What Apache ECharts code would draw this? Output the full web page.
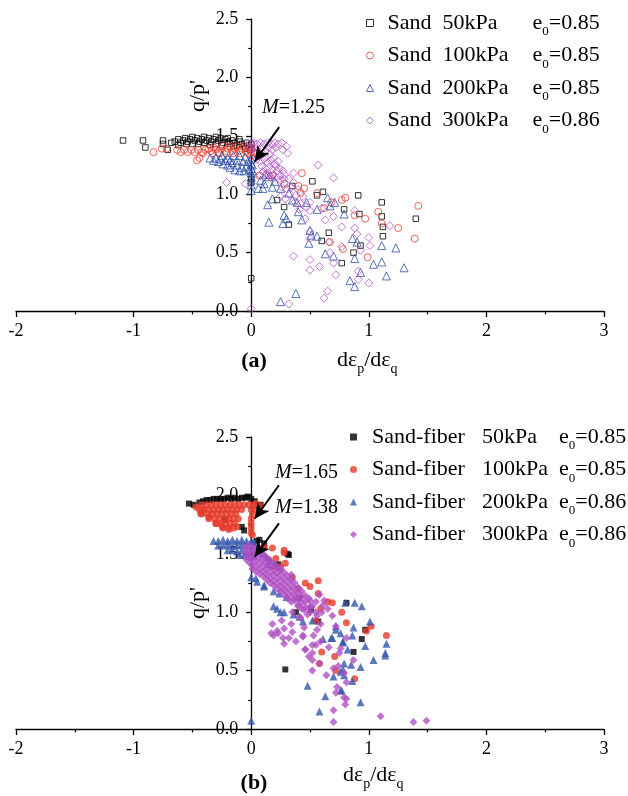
<!DOCTYPE html>
<html><head><meta charset="utf-8">
<script src="https://cdn.jsdelivr.net/npm/echarts@6/dist/echarts.min.js"></script>
<style>html,body{margin:0;padding:0;background:#fff}#c{width:628px;height:796px}</style>
</head><body><div id="c"></div>
<script>
// ---------- labels ----------
const sandNames = ['Sand 50kPa','Sand 100kPa','Sand 200kPa','Sand 300kPa'];
const sandP = ['50kPa','100kPa','200kPa','300kPa'];
const sandE0 = ['0.85','0.85','0.85','0.86'];
const fiberNames = ['Sand-fiber 50kPa','Sand-fiber 100kPa','Sand-fiber 200kPa','Sand-fiber 300kPa'];
const fiberP = ['50kPa','100kPa','200kPa','300kPa'];
const fiberE0 = ['0.85','0.85','0.86','0.86'];
const xRange = [-2, 3];
const yRange = [0, 2.5];
const mTextA = ['1.25'];
const mTextB = ['1.65','1.38'];
// arrow annotations: [tail, head] in data coordinates
const arrowsA = [[[0.238,1.574],[0.03,1.28]]];
const arrowsB = [[[0.236,2.087],[0.03,1.80]],[[0.236,1.76],[0.03,1.475]]];

// ---------- (a) Sand ----------
const sand50 = [[-1.09,1.46],[-0.92,1.46],[-0.90,1.40],[-0.75,1.46],[-0.75,1.43],[-0.71,1.38],
[-0.68,1.44],[-0.65,1.45],[-0.62,1.47],[-0.60,1.44],[-0.58,1.46],[-0.56,1.48],[-0.54,1.45],[-0.52,1.47],[-0.50,1.43],[-0.48,1.46],[-0.46,1.48],[-0.44,1.45],[-0.42,1.47],[-0.40,1.44],[-0.38,1.46],[-0.36,1.48],[-0.34,1.45],[-0.32,1.47],[-0.30,1.43],[-0.28,1.46],[-0.26,1.48],[-0.24,1.44],[-0.22,1.47],[-0.20,1.45],[-0.18,1.43],[-0.16,1.46],[-0.14,1.44],[-0.12,1.42],[-0.10,1.45],[-0.08,1.43],[-0.06,1.41],[-0.04,1.44],[-0.02,1.42],[0.00,1.40],[0.00,1.43],[-0.01,1.38],
[-0.62,1.42],[-0.55,1.43],[-0.45,1.43],[-0.35,1.42],[-0.25,1.42],[-0.15,1.41],[-0.05,1.39],[-0.50,1.49],[-0.40,1.49],[-0.30,1.49],[-0.20,1.48],[-0.10,1.47],
[0.00,1.13],[0.00,1.10],
[0.52,1.11],[0.35,1.07],[0.61,1.02],[0.56,0.99],[0.91,0.99],[1.11,0.93],[1.40,0.79],[0.22,0.95],[0.28,0.89],[0.79,0.87],[0.92,0.83],[1.11,0.81],[1.12,0.72],[1.12,0.64],[0.32,0.74],[0.66,0.67],[0.60,0.60],[0.93,0.56],[0.87,0.50],[0.77,0.41],[0.00,0.28]];

const sand100 = [[-0.83,1.36],[-0.76,1.39],[-0.72,1.39],[-0.63,1.38],[-0.60,1.36],[-0.57,1.38],[-0.54,1.36],[-0.51,1.38],[-0.48,1.36],[-0.45,1.38],[-0.42,1.36],[-0.39,1.38],[-0.46,1.29],[-0.44,1.31],[-0.41,1.35],
[-0.36,1.39],[-0.34,1.37],[-0.32,1.40],[-0.30,1.38],[-0.28,1.36],[-0.26,1.39],[-0.24,1.41],[-0.22,1.37],[-0.20,1.39],[-0.18,1.41],[-0.16,1.37],[-0.14,1.39],[-0.12,1.41],[-0.10,1.37],[-0.08,1.39],[-0.06,1.41],[-0.04,1.37],[-0.02,1.39],[0.00,1.40],[0.00,1.36],[0.00,1.33],[-0.33,1.35],[-0.27,1.35],[-0.21,1.35],[-0.15,1.35],[-0.09,1.35],[-0.03,1.35],[0.02,1.36],[0.01,1.30],
[0.07,1.16],[0.15,1.16],[0.18,1.16],[0.28,1.09],[0.40,1.07],[0.43,1.18],[0.45,1.05],[0.42,1.01],[0.56,1.01],[0.80,0.97],[0.77,0.95],[0.68,0.93],[0.62,0.88],[0.88,0.82],[0.97,0.79],[1.08,0.85],[1.11,0.75],[1.25,0.71],[1.42,0.90],[1.39,0.62],[0.99,0.46],[0.67,0.59],[0.78,0.53]];

const sand200 = [[-0.35,1.31],[-0.32,1.29],[-0.30,1.31],[-0.28,1.28],[-0.26,1.30],[-0.24,1.26],[-0.22,1.29],[-0.20,1.25],[-0.18,1.23],[-0.16,1.27],[-0.14,1.21],[-0.12,1.25],[-0.10,1.20],[-0.08,1.23],[-0.06,1.20],[-0.04,1.24],[-0.02,1.21],[-0.20,1.31],[-0.15,1.33],[-0.10,1.33],[-0.05,1.32],[-0.12,1.29],[-0.07,1.28],[-0.03,1.28],[-0.25,1.33],[-0.18,1.29],
[0.00,1.30],[0.00,1.26],[0.00,1.22],[0.00,1.18],[0.00,1.15],[0.00,1.12],[0.00,1.08],[0.00,1.03],[0.01,1.20],[0.01,1.25],
[0.08,1.12],[0.11,1.09],[0.06,1.05],[0.14,0.91],[0.18,0.96],[0.20,1.11],[0.15,1.15],[0.12,1.17],[0.10,1.05],[0.18,1.06],[0.32,1.01],[0.39,0.93],[0.40,0.85],[0.43,0.78],[0.28,0.82],[0.30,0.79],[0.27,0.75],[0.15,0.76],[0.50,0.69],[0.51,0.65],[0.56,0.64],[0.49,0.58],[0.47,0.93],[0.56,0.87],[0.65,0.97],[0.67,0.90],[0.71,0.93],[0.79,0.83],[0.63,0.49],[0.70,0.47],[0.86,0.62],[0.90,0.59],[0.88,0.45],[0.93,0.33],[0.84,0.26],[0.88,0.21],[1.04,0.40],[1.11,0.42],[1.11,0.56],[1.23,0.54],[1.15,0.30],[1.30,0.37],[0.38,0.15],[0.25,0.08],[0.25,1.05],[0.35,0.95]];

const sand300 = [[-0.21,1.10],[-0.05,1.09],[-0.02,1.42],[0.00,1.44],[-0.01,1.39],
[0.02,1.44],[0.05,1.43],[0.08,1.44],[0.11,1.43],[0.14,1.44],[0.17,1.43],[0.20,1.44],[0.23,1.43],[0.26,1.44],
[0.03,1.40],[0.06,1.38],[0.09,1.40],[0.12,1.37],[0.15,1.40],[0.18,1.38],[0.21,1.40],
[0.04,1.35],[0.07,1.33],[0.10,1.35],[0.13,1.32],[0.16,1.34],[0.19,1.31],
[0.05,1.30],[0.08,1.28],[0.11,1.30],[0.14,1.27],[0.17,1.29],[0.20,1.26],[0.23,1.28],
[0.09,1.24],[0.12,1.22],[0.15,1.23],[0.18,1.21],[0.21,1.24],[0.24,1.22],[0.27,1.20],
[0.10,1.19],[0.13,1.17],[0.16,1.15],[0.19,1.17],[0.22,1.14],[0.25,1.16],[0.28,1.13],
[0.30,1.41],[0.31,1.35],[0.27,1.38],[0.57,1.25],[0.70,1.14],
[0.22,1.20],[0.28,1.17],[0.32,1.13],[0.36,1.10],[0.25,1.12],[0.30,1.05],[0.34,1.06],[0.40,1.04],[0.38,0.99],[0.44,0.98],[0.29,0.96],[0.41,0.87],[0.47,0.89],[0.25,0.98],[0.36,1.18],
[0.08,1.16],[0.18,1.13],[0.26,1.06],[0.33,1.00],[0.37,0.93],[0.42,0.92],[0.50,0.93],[0.50,0.86],[0.46,0.79],[0.60,0.88],[0.63,0.78],[0.70,0.81],[0.77,0.72],[0.88,0.86],[0.88,0.71],[0.90,0.66],[1.00,0.63],[1.01,0.56],[1.18,0.73],[0.93,0.52],[0.77,0.55],[0.66,0.59],[0.67,0.50],[0.50,0.62],[0.50,0.68],[0.36,0.47],[0.50,0.44],[0.58,0.38],[0.50,0.35],[0.70,0.41],[0.72,0.31],[1.00,0.24],[0.91,0.34],[0.91,0.27],[0.65,0.17],[0.62,0.11],[0.32,0.06],[0.00,0.02]];

// ---------- (b) Sand-fiber ----------
const fiber50 = [[-0.53,1.93],[-0.49,1.92],[-0.44,1.94],[-0.41,1.95],[-0.38,1.96],[-0.35,1.96],[-0.32,1.97],[-0.29,1.97],[-0.26,1.97],[-0.23,1.97],[-0.20,1.98],[-0.17,1.97],[-0.14,1.98],[-0.11,1.97],[-0.08,1.98],[-0.05,1.98],[-0.03,1.99],[0.00,1.97],[0.03,1.95],[0.06,1.91],[0.08,1.92],
[-0.22,1.79],[-0.08,1.73],[-0.06,1.70],[0.05,1.61],[0.07,1.62],[0.11,1.59],[0.11,1.56],[0.31,1.50],[0.32,1.49],[0.23,1.41],[0.41,1.12],[0.51,1.02],[0.57,0.92],[0.38,1.00],[0.81,1.08],[0.97,0.85],[0.94,0.77],[0.87,0.66],[0.29,0.51]];

const fiber100 = [[-0.42,1.92],[-0.38,1.92],[-0.34,1.92],[-0.30,1.92],[-0.26,1.92],[-0.22,1.92],[-0.18,1.92],[-0.14,1.92],[-0.10,1.92],[-0.06,1.92],[-0.02,1.92],[0.02,1.92],
[-0.44,1.88],[-0.40,1.88],[-0.36,1.88],[-0.32,1.88],[-0.28,1.88],[-0.24,1.88],[-0.20,1.88],[-0.16,1.88],[-0.12,1.88],[-0.08,1.88],[0.00,1.88],[0.03,1.88],
[-0.42,1.84],[-0.37,1.84],[-0.33,1.84],[-0.29,1.84],[-0.25,1.84],[-0.21,1.84],[-0.17,1.84],[-0.13,1.84],[0.01,1.84],
[-0.36,1.80],[-0.31,1.80],[-0.27,1.80],[-0.23,1.80],[-0.19,1.80],[-0.15,1.80],[-0.11,1.80],[0.00,1.80],
[-0.30,1.76],[-0.26,1.76],[-0.22,1.76],[-0.18,1.76],[-0.14,1.76],[0.00,1.76],
[-0.24,1.72],[-0.19,1.72],[-0.15,1.72],[0.00,1.72],[0.00,1.68],[0.01,1.66],
[-0.415,1.87],[-0.43,1.845],[-0.36,1.816],[-0.30,1.759],[-0.245,1.731],[-0.19,1.708],[-0.12,1.731],[0.04,1.93],[0.08,1.91],[-0.47,1.90],
[0.18,1.55],[0.28,1.53],[0.28,1.51],[0.21,1.46],[0.25,1.39],[0.29,1.42],[0.11,1.56],[0.19,1.39],[0.46,1.25],[0.50,1.22],[0.57,1.27],[0.57,1.16],[0.65,1.09],[0.69,1.08],[0.77,1.00],[0.81,0.91],[0.59,1.03],[0.55,0.93],[1.02,0.88],[0.98,0.84],[1.15,0.80],[0.60,0.66],[0.71,0.62],[0.58,0.56],[0.72,0.50],[0.88,0.43],[0.15,1.45],[0.35,1.30],[0.40,1.20]];

const fiber200 = [[-0.32,1.61],[-0.28,1.61],[-0.24,1.62],[-0.20,1.61],[-0.16,1.62],[-0.12,1.61],[-0.08,1.62],[-0.04,1.61],[0.00,1.61],[0.02,1.60],
[-0.28,1.57],[-0.24,1.57],[-0.20,1.58],[-0.16,1.57],[-0.12,1.57],[-0.08,1.58],[-0.04,1.57],[0.00,1.57],[0.03,1.56],
[-0.20,1.53],[-0.16,1.53],[-0.12,1.52],[-0.08,1.53],[-0.04,1.52],[0.00,1.53],[0.02,1.52],
[-0.10,1.49],[-0.06,1.49],[-0.02,1.48],[0.02,1.48],
[0.00,1.30],[0.04,1.29],[0.05,1.26],[0.11,1.23],[0.11,1.22],[0.19,1.18],[0.24,1.16],[0.30,1.13],[0.19,1.05],[0.22,1.03],[0.25,1.00],[0.28,1.00],[0.36,0.98],[0.41,0.96],[0.44,0.92],[0.52,0.93],[0.10,1.50],[0.13,1.47],[0.16,1.44],[0.20,1.41],[0.14,1.41],[0.06,1.52],[0.24,1.38],
[0.61,0.77],[0.68,0.78],[0.72,0.88],[0.76,0.82],[0.78,0.74],[0.80,1.08],[0.88,1.08],[0.94,1.05],[0.82,0.68],[0.86,0.80],[0.87,0.87],[0.97,0.71],[1.01,0.92],[1.04,0.59],[1.14,0.63],[1.15,0.73],[1.14,0.65],[0.79,0.56],[0.76,0.49],[0.86,0.41],[0.77,0.33],[0.93,0.23],[0.48,0.37],[0.63,0.28],[0.58,0.15],[0.00,0.07],[0.78,0.75],[0.85,0.55],[0.78,0.51],[0.79,0.46],[0.70,0.45],[0.76,0.33],[0.93,0.53],[0.72,0.85],[0.69,0.78]];

const fiber300 = [[-0.05,1.55],[-0.05,1.50],[-0.04,1.45],
[-0.02,1.57],[-0.02,1.52],[-0.02,1.47],[-0.01,1.42],
[0.01,1.56],[0.01,1.51],[0.01,1.46],[0.01,1.41],[0.01,1.37],
[0.04,1.54],[0.04,1.49],[0.04,1.44],[0.04,1.39],[0.04,1.35],
[0.07,1.52],[0.07,1.47],[0.07,1.42],[0.07,1.37],[0.07,1.33],
[0.10,1.50],[0.10,1.45],[0.10,1.40],[0.10,1.35],[0.10,1.31],
[0.13,1.47],[0.13,1.42],[0.13,1.37],[0.13,1.32],[0.13,1.28],
[0.16,1.44],[0.16,1.39],[0.16,1.34],[0.16,1.29],[0.16,1.25],
[0.19,1.42],[0.19,1.37],[0.19,1.32],[0.19,1.27],[0.19,1.23],
[0.22,1.39],[0.22,1.34],[0.22,1.29],[0.22,1.24],[0.22,1.20],
[0.25,1.37],[0.25,1.32],[0.25,1.27],[0.25,1.22],[0.25,1.18],
[0.28,1.34],[0.28,1.29],[0.28,1.24],[0.28,1.19],[0.28,1.15],
[0.31,1.31],[0.31,1.26],[0.31,1.21],[0.31,1.16],[0.31,1.12],
[0.34,1.28],[0.34,1.23],[0.34,1.18],[0.34,1.13],[0.34,1.09],
[0.37,1.25],[0.37,1.20],[0.37,1.15],[0.37,1.10],
[0.40,1.21],[0.40,1.16],[0.40,1.11],[0.40,1.06],
[0.43,1.18],[0.43,1.13],[0.43,1.08],[0.43,1.03],
[0.46,1.14],[0.46,1.09],[0.46,1.04],
[0.50,1.10],[0.50,1.05],[0.50,1.00],
[0.40,1.05],[0.45,1.02],[0.35,1.00],[0.48,0.98],[0.42,0.95],[0.55,1.00],[0.62,1.10],[0.58,1.15],[0.52,1.05],[0.38,1.12],
[0.34,1.32],[0.49,1.12],[0.55,1.09],[0.61,1.06],[0.65,1.03],[0.56,0.97],[0.59,0.90],[0.45,0.87],[0.41,0.96],[0.26,0.93],[0.28,0.86],[0.23,0.82],[0.19,0.80],[0.35,0.83],[0.32,0.78],[0.38,0.75],[0.44,0.80],[0.56,0.85],[0.52,0.72],[0.46,0.68],[0.59,0.75],[0.66,0.70],[0.49,0.62],[0.52,0.59],[0.52,0.50],[0.58,0.56],[0.64,0.46],[0.70,0.52],[0.74,0.54],[0.75,0.65],[0.76,0.69],[0.81,0.78],[0.87,0.59],[0.79,0.48],[0.73,0.36],[0.81,0.40],[0.72,0.31],[0.81,0.26],[0.80,0.21],[0.70,0.16],[0.70,0.06],[1.10,0.11],[1.38,0.06],[1.49,0.07],[0.53,0.80],[0.46,0.68],[0.55,0.72],[0.79,0.27],[0.72,0.88],[0.60,1.00],[0.69,0.97],[0.17,0.82],[0.22,0.84],[0.18,0.90],[0.27,0.78],[0.28,0.73],[0.34,0.90],[0.44,0.79],[0.52,0.65]];

// ---------- chart ----------
const FONT = '"Liberation Serif","Times New Roman",serif';
const chart = echarts.init(document.getElementById('c'), null, {renderer:'canvas'});
const GRID_LEFT = 16, GRID_W = 588;
// offset that places the y axis at x = 0 (moves the whole axis: line, ticks and labels)
const yOffset = -GRID_W * (0 - xRange[0]) / (xRange[1] - xRange[0]);

function mkX(i){ return {type:'value', gridIndex:i, min:xRange[0], max:xRange[1], interval:1,
  axisLine:{onZero:true, lineStyle:{color:'#000', width:1.3}},
  axisTick:{length:6, lineStyle:{color:'#000', width:1.3}},
  minorTick:{show:true, splitNumber:2, length:3.5, lineStyle:{color:'#000', width:1.2}},
  splitLine:{show:false},
  axisLabel:{fontFamily:FONT, fontSize:18, color:'#000', margin:11}}; }
function mkY(i){ return {type:'value', gridIndex:i, min:yRange[0], max:yRange[1], interval:0.5,
  position:'left', offset:yOffset,
  axisLine:{onZero:false, lineStyle:{color:'#000', width:1.3}},
  axisTick:{length:5, lineStyle:{color:'#000', width:1.3}},
  minorTick:{show:true, splitNumber:2, length:3, lineStyle:{color:'#000', width:1.2}},
  splitLine:{show:false},
  axisLabel:{fontFamily:FONT, fontSize:18, color:'#000', margin:13, formatter:v=>v.toFixed(1)}}; }

const hollow = (c)=>({color:'rgba(255,255,255,0)', borderColor:c, borderWidth:1});
const filled = (c)=>({color:c, borderWidth:0});

function sc(name, data, gi, symbol, size, style, extra){
  return Object.assign({type:'scatter', name, data, xAxisIndex:gi, yAxisIndex:gi, symbol, symbolSize:size,
    itemStyle:style, silent:true, emphasis:{disabled:true}, animation:false}, extra||{});
}
function arrowML(arr){
  return {silent:true, symbol:['none','arrow'], symbolSize:[11,15], animation:false,
    lineStyle:{color:'#000', width:2, type:'solid'}, label:{show:false}, emphasis:{disabled:true},
    data: arr.map(a=>[{coord:a[0]},{coord:a[1]}])};
}

const subRich = {
  g:{width:9},
  n:{fontFamily:FONT, fontSize:22, lineHeight:24, color:'#000'},
  e:{fontFamily:FONT, fontSize:22, lineHeight:24, color:'#000'},
  s:{fontFamily:FONT, fontSize:13, height:13, padding:[18,0,0,0], color:'#000'}
};
const richA = Object.assign({}, subRich, {n:Object.assign({}, subRich.n, {width:145})});
const richB = Object.assign({}, subRich, {g:{width:10},
  n:Object.assign({}, subRich.n, {width:110}), p:Object.assign({}, subRich.n, {width:77})});

const gridBase = {left:GRID_LEFT, width:GRID_W, height:292, containLabel:false, outerBoundsMode:'none'};
const option = {
  backgroundColor:'#fff',
  animation:false,
  grid:[Object.assign({top:19}, gridBase), Object.assign({top:437}, gridBase)],
  xAxis:[mkX(0), mkX(1)],
  yAxis:[mkY(0), mkY(1)],
  legend:[
    {data:sandNames, orient:'vertical', left:366, top:12, padding:0, itemGap:6, itemWidth:7, itemHeight:7,
     itemStyle:{borderWidth:1}, selectedMode:false,
     textStyle:{rich:richA, fontFamily:FONT, fontSize:22, color:'#000'},
     formatter:n=>{const i=sandNames.indexOf(n); return '{g| }{n|Sand  '+sandP[i]+'}{e|e}{s|0}{e|='+sandE0[i]+'}';}},
    {data:fiberNames, orient:'vertical', left:350, top:426, padding:0, itemGap:6, itemWidth:7, itemHeight:7,
     selectedMode:false,
     textStyle:{rich:richB, fontFamily:FONT, fontSize:22, color:'#000'},
     formatter:n=>{const i=fiberNames.indexOf(n); return '{g| }{n|Sand-fiber}{p|'+fiberP[i]+'}{e|e}{s|0}{e|='+fiberE0[i]+'}';}}
  ],
  series:[
    sc(sandNames[0], sand50, 0, 'rect', 5.5, hollow('#000000')),
    sc(sandNames[1], sand100, 0, 'circle', 7, hollow('#e8402f')),
    sc(sandNames[2], sand200, 0, 'triangle', 8, hollow('#2f50a8')),
    sc(sandNames[3], sand300, 0, 'diamond', 8, hollow('#b455cc'), {markLine:arrowML(arrowsA)}),
    sc(fiberNames[0], fiber50, 1, 'rect', 6, filled('#000000')),
    sc(fiberNames[1], fiber100, 1, 'circle', 7, filled('#e63b2b')),
    sc(fiberNames[2], fiber200, 1, 'triangle', 8, filled('#3456ad')),
    sc(fiberNames[3], fiber300, 1, 'diamond', 8, filled('#b150c4'), {markLine:arrowML(arrowsB)})
  ],
  graphic:[
    {type:'text', x:198, y:96, rotation:Math.PI/2, silent:true,
     style:{text:"q/p'", font:'22px '+FONT, fill:'#000', align:'center', verticalAlign:'middle'}},
    {type:'text', x:198, y:603, rotation:Math.PI/2, silent:true,
     style:{text:"q/p'", font:'22px '+FONT, fill:'#000', align:'center', verticalAlign:'middle'}},
    {type:'text', x:337, y:360, silent:true,
     style:{text:'{m|dε}{s|p}{m|/dε}{s|q}', align:'left', verticalAlign:'middle',
       rich:{m:{fontFamily:FONT, fontSize:22, lineHeight:24, fill:'#000'}, s:{fontFamily:FONT, fontSize:14, height:14, padding:[18,0,0,0], fill:'#000'}}}},
    {type:'text', x:343, y:775, silent:true,
     style:{text:'{m|dε}{s|p}{m|/dε}{s|q}', align:'left', verticalAlign:'middle',
       rich:{m:{fontFamily:FONT, fontSize:22, lineHeight:24, fill:'#000'}, s:{fontFamily:FONT, fontSize:14, height:14, padding:[18,0,0,0], fill:'#000'}}}},
    {type:'text', x:254, y:361, silent:true,
     style:{text:'(a)', font:'bold 22px '+FONT, fill:'#000', align:'center', verticalAlign:'middle'}},
    {type:'text', x:254, y:783, silent:true,
     style:{text:'(b)', font:'bold 22px '+FONT, fill:'#000', align:'center', verticalAlign:'middle'}},
    {type:'text', x:262, y:108, silent:true,
     style:{text:'{i|M}{t|='+mTextA[0]+'}', align:'left', verticalAlign:'middle',
       rich:{i:{fontFamily:FONT, fontSize:20, fontStyle:'italic', fill:'#000'}, t:{fontFamily:FONT, fontSize:20, fill:'#000'}}}},
    {type:'text', x:275, y:473, silent:true,
     style:{text:'{i|M}{t|='+mTextB[0]+'}', align:'left', verticalAlign:'middle',
       rich:{i:{fontFamily:FONT, fontSize:20, fontStyle:'italic', fill:'#000'}, t:{fontFamily:FONT, fontSize:20, fill:'#000'}}}},
    {type:'text', x:275, y:508, silent:true,
     style:{text:'{i|M}{t|='+mTextB[1]+'}', align:'left', verticalAlign:'middle',
       rich:{i:{fontFamily:FONT, fontSize:20, fontStyle:'italic', fill:'#000'}, t:{fontFamily:FONT, fontSize:20, fill:'#000'}}}}
  ]
};
chart.setOption(option);
</script>
</body></html>
